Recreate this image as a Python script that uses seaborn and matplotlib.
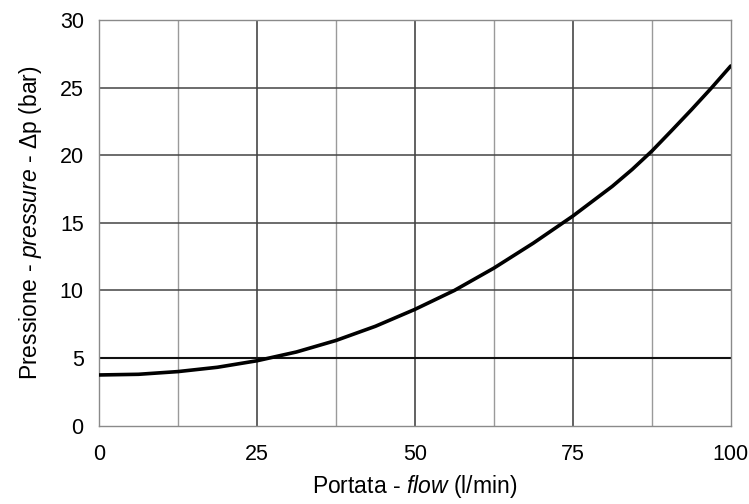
import matplotlib
matplotlib.use("Agg")
import matplotlib.pyplot as plt
import seaborn as sns
import pandas as pd

flow = [0, 6.25, 12.5, 18.75, 25, 31.25, 37.5, 43.75, 50, 56.25, 62.5,
        68.75, 75, 81.25, 84.4, 87.5, 90.6, 93.75, 96.9, 100]
pressure = [3.75, 3.8, 4.0, 4.32, 4.8, 5.45, 6.3, 7.35, 8.6, 10.0, 11.65,
            13.5, 15.5, 17.7, 18.95, 20.3, 21.8, 23.35, 24.95, 26.6]
x_ticks = [0, 25, 50, 75, 100]
x_minor = [12.5, 37.5, 62.5, 87.5]
y_ticks = [0, 5, 10, 15, 20, 25, 30]

sns.set_theme(style="white")
fams = ["Liberation Sans", "DejaVu Sans"]
plt.rcParams["font.family"] = fams
plt.rcParams["mathtext.fontset"] = "custom"
plt.rcParams["mathtext.it"] = "Liberation Sans:italic"
plt.rcParams["mathtext.rm"] = "Liberation Sans"
plt.rcParams["lines.solid_capstyle"] = "round"
plt.rcParams["lines.solid_joinstyle"] = "round"

fig = plt.figure(figsize=(7.49, 5.04), dpi=100)
ax = fig.add_axes([0.1322, 0.1554, 0.9756 - 0.1322, 0.9603 - 0.1554])

df = pd.DataFrame({"flow": flow, "pressure": pressure})

ax.set_xlim(0, 100)
ax.set_ylim(0, 30)

for v in x_minor:
    ax.axvline(v, color="#9a9a9a", lw=1.0, zorder=1)
for v in x_ticks[1:-1]:
    ax.axvline(v, color="#555555", lw=1.3, zorder=1)
for v in y_ticks[2:-1]:
    ax.axhline(v, color="#444444", lw=1.1, zorder=1)
ax.axhline(5, color="#111111", lw=1.5, zorder=1)

sns.lineplot(data=df, x="flow", y="pressure", ax=ax, color="black", lw=2.6, zorder=3)

for s in ax.spines.values():
    s.set_color("#8a8a8a")
    s.set_linewidth(1.0)

ax.set_xticks(x_ticks)
ax.set_yticks(y_ticks)
ax.tick_params(axis="x", length=0, pad=13, labelsize=15.5, colors="black")
ax.tick_params(axis="y", length=0, pad=11, labelsize=15.5, colors="black")

ax.set_xlabel("Portata - $\\mathit{flow}$ (l/min)", fontsize=16.5, labelpad=6, color="black")
ax.set_ylabel("Pressione - $\\mathit{pressure}$ - Δp (bar)", fontsize=16.5, labelpad=11, color="black")

fig.savefig("out.png", dpi=100)
